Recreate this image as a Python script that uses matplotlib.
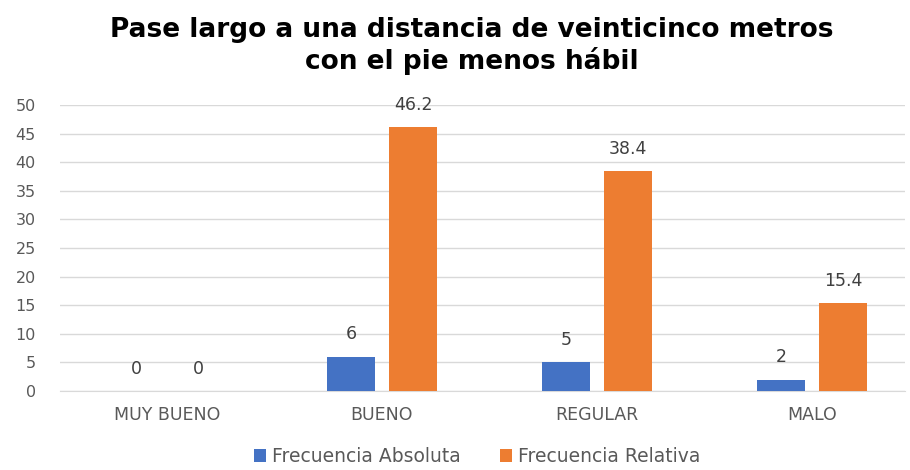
import numpy as np
import matplotlib
matplotlib.use('Agg')
import matplotlib.pyplot as plt

# datos del grafico
categorias = ['MUY BUENO', 'BUENO', 'REGULAR', 'MALO']
frec_absoluta = [0, 6, 5, 2]
frec_relativa = [0, 46.2, 38.4, 15.4]
etiq_absoluta = ['0', '6', '5', '2']
etiq_relativa = ['0', '46.2', '38.4', '15.4']

azul = '#4472C4'
naranja = '#ED7D31'

plt.rcParams['font.family'] = ['DejaVu Sans']

fig = plt.figure(figsize=(9.1, 4.7), dpi=100)
ax = fig.add_axes([59.5 / 910, 1 - 391 / 470, (905 - 59.5) / 910, (391 - 105) / 470])

x = np.arange(len(categorias))
ancho = 0.22
desp = 0.144

b1 = ax.bar(x - desp, frec_absoluta, ancho, color=azul, label='Frecuencia Absoluta', zorder=3)
b2 = ax.bar(x + desp, frec_relativa, ancho, color=naranja, label='Frecuencia Relativa', zorder=3)

ax.bar_label(b1, labels=etiq_absoluta, padding=9.5, fontsize=12.5, color='#404040')
ax.bar_label(b2, labels=etiq_relativa, padding=9.5, fontsize=12.5, color='#404040')

ax.set_ylim(0, 50)
ax.set_yticks(range(0, 51, 5))
ax.set_xlim(-0.5, 3.5 - 14.5 / 215)
ax.set_xticks(x)
ax.set_xticklabels(categorias)
ax.tick_params(axis='both', length=0, labelcolor='#595959')
ax.tick_params(axis='x', pad=11, labelsize=12.5)
ax.tick_params(axis='y', pad=17, labelsize=11.5)
ax.grid(axis='y', color='#D9D9D9', linewidth=1, zorder=0)
for s in ['top', 'right', 'left']:
    ax.spines[s].set_visible(False)
ax.spines['bottom'].set_color('#D9D9D9')

fig.text(0.518, 1 - 17 / 470,
         'Pase largo a una distancia de veinticinco metros\ncon el pie menos hábil',
         ha='center', va='top', fontsize=19, fontweight='bold',
         linespacing=1.2, color='black')

fig.legend(handles=[b1, b2], loc='lower center', bbox_to_anchor=(0.524, -0.028), ncol=2,
           frameon=False, fontsize=13.5, handlelength=0.65, handleheight=0.65,
           columnspacing=2.1, handletextpad=0.3, labelcolor='#595959')

plt.savefig('out.png', dpi=100)
